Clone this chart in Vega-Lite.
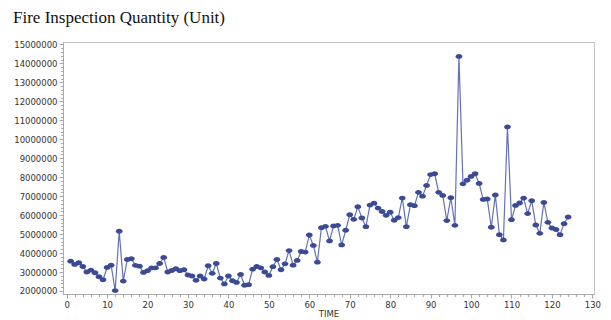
{
  "$schema": "https://vega.github.io/schema/vega-lite/v6.json",
  "width": 531,
  "height": 252,
  "autosize": "none",
  "padding": {"left": 63, "top": 42, "right": 17, "bottom": 26},
  "background": "white",
  "title": {
    "text": "Fire Inspection Quantity (Unit)",
    "font": "Liberation Serif",
    "fontSize": 17,
    "fontWeight": "normal",
    "color": "#111111",
    "anchor": "start",
    "frame": "group",
    "dx": -50,
    "offset": 13
  },
  "config": {
    "view": {"stroke": "#c4c4c4", "strokeWidth": 1},
    "axis": {
      "grid": false,
      "domainColor": "#a9a9a9",
      "tickColor": "#a9a9a9",
      "labelFont": "DejaVu Sans",
      "labelFontSize": 8.5,
      "labelColor": "#333333",
      "titleFont": "DejaVu Sans",
      "titleFontSize": 8.5,
      "titleFontWeight": "normal",
      "titleColor": "#333333"
    }
  },
  "data": {
    "values": [
      {"t": 1, "q": 3570000}, {"t": 2, "q": 3400000}, {"t": 3, "q": 3490000}, {"t": 4, "q": 3290000},
      {"t": 5, "q": 3000000}, {"t": 6, "q": 3100000}, {"t": 7, "q": 2960000}, {"t": 8, "q": 2750000},
      {"t": 9, "q": 2590000}, {"t": 10, "q": 3240000}, {"t": 11, "q": 3360000}, {"t": 12, "q": 2020000},
      {"t": 13, "q": 5150000}, {"t": 14, "q": 2520000}, {"t": 15, "q": 3660000}, {"t": 16, "q": 3700000},
      {"t": 17, "q": 3350000}, {"t": 18, "q": 3310000}, {"t": 19, "q": 2980000}, {"t": 20, "q": 3070000},
      {"t": 21, "q": 3220000}, {"t": 22, "q": 3220000}, {"t": 23, "q": 3450000}, {"t": 24, "q": 3770000},
      {"t": 25, "q": 3000000}, {"t": 26, "q": 3080000}, {"t": 27, "q": 3170000}, {"t": 28, "q": 3070000},
      {"t": 29, "q": 3120000}, {"t": 30, "q": 2840000}, {"t": 31, "q": 2790000}, {"t": 32, "q": 2560000},
      {"t": 33, "q": 2790000}, {"t": 34, "q": 2630000}, {"t": 35, "q": 3330000}, {"t": 36, "q": 2930000},
      {"t": 37, "q": 3450000}, {"t": 38, "q": 2680000}, {"t": 39, "q": 2370000}, {"t": 40, "q": 2790000},
      {"t": 41, "q": 2540000}, {"t": 42, "q": 2450000}, {"t": 43, "q": 2870000}, {"t": 44, "q": 2300000},
      {"t": 45, "q": 2330000}, {"t": 46, "q": 3150000}, {"t": 47, "q": 3290000}, {"t": 48, "q": 3220000},
      {"t": 49, "q": 3000000}, {"t": 50, "q": 2820000}, {"t": 51, "q": 3280000}, {"t": 52, "q": 3660000},
      {"t": 53, "q": 3120000}, {"t": 54, "q": 3430000}, {"t": 55, "q": 4130000}, {"t": 56, "q": 3360000},
      {"t": 57, "q": 3610000}, {"t": 58, "q": 4080000}, {"t": 59, "q": 4050000}, {"t": 60, "q": 4950000},
      {"t": 61, "q": 4400000}, {"t": 62, "q": 3520000}, {"t": 63, "q": 5340000}, {"t": 64, "q": 5410000},
      {"t": 65, "q": 4640000}, {"t": 66, "q": 5430000}, {"t": 67, "q": 5460000}, {"t": 68, "q": 4430000},
      {"t": 69, "q": 5200000}, {"t": 70, "q": 6020000}, {"t": 71, "q": 5780000}, {"t": 72, "q": 6440000},
      {"t": 73, "q": 5850000}, {"t": 74, "q": 5390000}, {"t": 75, "q": 6530000}, {"t": 76, "q": 6630000},
      {"t": 77, "q": 6370000}, {"t": 78, "q": 6190000}, {"t": 79, "q": 5990000}, {"t": 80, "q": 6150000},
      {"t": 81, "q": 5730000}, {"t": 82, "q": 5870000}, {"t": 83, "q": 6900000}, {"t": 84, "q": 5390000},
      {"t": 85, "q": 6550000}, {"t": 86, "q": 6500000}, {"t": 87, "q": 7200000}, {"t": 88, "q": 7000000},
      {"t": 89, "q": 7560000}, {"t": 90, "q": 8140000}, {"t": 91, "q": 8180000}, {"t": 92, "q": 7200000},
      {"t": 93, "q": 7040000}, {"t": 94, "q": 5710000}, {"t": 95, "q": 6920000}, {"t": 96, "q": 5460000},
      {"t": 97, "q": 14370000}, {"t": 98, "q": 7650000}, {"t": 99, "q": 7840000}, {"t": 100, "q": 8040000},
      {"t": 101, "q": 8180000}, {"t": 102, "q": 7670000}, {"t": 103, "q": 6830000}, {"t": 104, "q": 6850000},
      {"t": 105, "q": 5360000}, {"t": 106, "q": 7060000}, {"t": 107, "q": 4970000}, {"t": 108, "q": 4690000},
      {"t": 109, "q": 10650000}, {"t": 110, "q": 5760000}, {"t": 111, "q": 6510000}, {"t": 112, "q": 6640000},
      {"t": 113, "q": 6900000}, {"t": 114, "q": 6080000}, {"t": 115, "q": 6760000}, {"t": 116, "q": 5480000},
      {"t": 117, "q": 5040000}, {"t": 118, "q": 6670000}, {"t": 119, "q": 5620000}, {"t": 120, "q": 5320000},
      {"t": 121, "q": 5240000}, {"t": 122, "q": 4970000}, {"t": 123, "q": 5550000}, {"t": 124, "q": 5900000}
    ]
  },
  "layer": [
    {
      "mark": {"type": "line", "color": "#6472b4", "strokeWidth": 1.2},
      "encoding": {
        "x": {
          "field": "t", "type": "quantitative", "title": "TIME",
          "scale": {"domain": [-0.9, 130.4], "nice": false, "zero": false},
          "axis": {
            "orient": "bottom",
            "values": [0, 10, 20, 30, 40, 50, 60, 70, 80, 90, 100, 110, 120, 130],
            "tickSize": 4, "labelPadding": 2, "titlePadding": 1, "labelFlush": false
          }
        },
        "y": {
          "field": "q", "type": "quantitative", "title": null,
          "scale": {"domain": [1840000, 15130000], "nice": false, "zero": false},
          "axis": {
            "orient": "left",
            "values": [2000000, 3000000, 4000000, 5000000, 6000000, 7000000, 8000000, 9000000, 10000000, 11000000, 12000000, 13000000, 14000000, 15000000],
            "format": "d", "tickSize": 4, "labelPadding": 2, "labelFlush": false
          }
        }
      }
    },
    {
      "mark": {
        "type": "point", "filled": true, "opacity": 1, "color": "#3b4a95", "size": 45,
        "shape": "M-1,0A1,0.72,0,1,1,1,0A1,0.72,0,1,1,-1,0Z"
      },
      "encoding": {
        "x": {
          "field": "t", "type": "quantitative",
          "axis": {
            "orient": "bottom", "title": null, "labels": false, "domain": false,
            "tickSize": 2.5,
            "values": [2, 4, 6, 8, 12, 14, 16, 18, 22, 24, 26, 28, 32, 34, 36, 38, 42, 44, 46, 48, 52, 54, 56, 58, 62, 64, 66, 68, 72, 74, 76, 78, 82, 84, 86, 88, 92, 94, 96, 98, 102, 104, 106, 108, 112, 114, 116, 118, 122, 124, 126, 128]
          }
        },
        "y": {
          "field": "q", "type": "quantitative",
          "axis": {
            "orient": "left", "title": null, "labels": false, "domain": false,
            "tickSize": 2.5,
            "values": [2200000, 2400000, 2600000, 2800000, 3200000, 3400000, 3600000, 3800000, 4200000, 4400000, 4600000, 4800000, 5200000, 5400000, 5600000, 5800000, 6200000, 6400000, 6600000, 6800000, 7200000, 7400000, 7600000, 7800000, 8200000, 8400000, 8600000, 8800000, 9200000, 9400000, 9600000, 9800000, 10200000, 10400000, 10600000, 10800000, 11200000, 11400000, 11600000, 11800000, 12200000, 12400000, 12600000, 12800000, 13200000, 13400000, 13600000, 13800000, 14200000, 14400000, 14600000, 14800000]
          }
        }
      }
    }
  ],
  "resolve": {"axis": {"x": "independent", "y": "independent"}}
}
